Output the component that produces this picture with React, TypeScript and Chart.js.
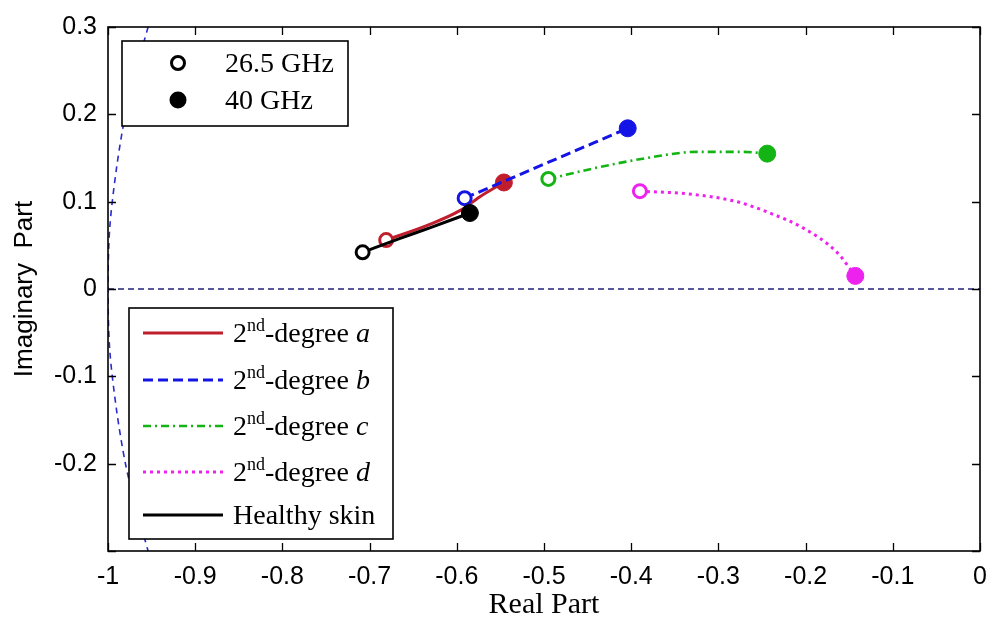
import React, { useEffect, useRef } from "react";
import { Chart, registerables } from "chart.js";

Chart.register(...registerables);

// ---- data ----
const healthyX = [-0.708, -0.665, -0.631, -0.585];
const healthyY = [0.042, 0.058, 0.07, 0.087];

const degAX = [-0.681, -0.631, -0.596, -0.573, -0.546];
const degAY = [0.056, 0.074, 0.09, 0.106, 0.122];

const degBX = [-0.591, -0.404];
const degBY = [0.104, 0.184];

const degCX = [-0.495, -0.439, -0.382, -0.325, -0.272, -0.244];
const degCY = [0.126, 0.139, 0.15, 0.157, 0.157, 0.155];

const degDX = [-0.39, -0.336, -0.279, -0.241, -0.203, -0.164, -0.143];
const degDY = [0.112, 0.109, 0.1, 0.087, 0.07, 0.042, 0.015];

// |Γ| = 1 boundary (visible part near Re = -1)
const circleX = [-0.954, -0.968, -0.98, -0.99, -0.998, -1.0, -0.998, -0.99, -0.98, -0.968, -0.954];
const circleY = [0.3, 0.25, 0.2, 0.14, 0.07, 0, -0.07, -0.14, -0.2, -0.25, -0.3];

const zeroX = [-1, 0];
const zeroY = [0, 0];

const xTicks = [-1, -0.9, -0.8, -0.7, -0.6, -0.5, -0.4, -0.3, -0.2, -0.1, 0];
const yTicks = [-0.3, -0.2, -0.1, 0, 0.1, 0.2, 0.3];

const freqLabels = ["26.5 GHz", "40 GHz"];
const seriesLetters = ["a", "b", "c", "d"];
const healthyLabel = "Healthy skin";

const zip = (xs: number[], ys: number[]) => xs.map((x, i) => ({ x, y: ys[i] }));

const COL_RED = "#c01e2c";
const COL_BLUE = "#1414e6";
const COL_GREEN = "#14b414";
const COL_MAG = "#ee22ee";
const COL_BLK = "#000000";

function endpointSet(label: string, xs: number[], ys: number[], color: string, dash: number[], width: number, order: number) {
  const n = xs.length;
  return {
    label,
    data: zip(xs, ys),
    borderColor: color,
    borderWidth: width,
    borderDash: dash,
    cubicInterpolationMode: "monotone",
    fill: false,
    order,
    pointRadius: (ctx: any) => (ctx.dataIndex === 0 ? 6.5 : ctx.dataIndex === n - 1 ? 8.5 : 0),
    pointBorderWidth: (ctx: any) => (ctx.dataIndex === 0 ? 3 : 1),
    pointBackgroundColor: (ctx: any) => (ctx.dataIndex === 0 ? "#ffffff" : color),
    pointBorderColor: color,
    pointHoverRadius: 0,
  };
}

const framePlugin = {
  id: "frameAndLegends",
  afterDraw(chart: any) {
    const { ctx, chartArea } = chart;
    const { left, right, top, bottom } = chartArea;
    const xs = chart.scales.x;
    const ys = chart.scales.y;
    ctx.save();
    // frame
    ctx.strokeStyle = "#000";
    ctx.lineWidth = 1.6;
    ctx.setLineDash([]);
    ctx.strokeRect(left, top, right - left, bottom - top);
    // inward ticks
    ctx.lineWidth = 1.3;
    const tl = 8;
    xTicks.forEach((v) => {
      const px = Math.round(xs.getPixelForValue(v)) + 0.5;
      ctx.beginPath();
      ctx.moveTo(px, bottom);
      ctx.lineTo(px, bottom - tl);
      ctx.moveTo(px, top);
      ctx.lineTo(px, top + tl);
      ctx.stroke();
    });
    yTicks.forEach((v) => {
      const py = Math.round(ys.getPixelForValue(v)) + 0.5;
      ctx.beginPath();
      ctx.moveTo(left, py);
      ctx.lineTo(left + tl, py);
      ctx.moveTo(right, py);
      ctx.lineTo(right - tl, py);
      ctx.stroke();
    });

    // legend 1 (frequency markers)
    ctx.fillStyle = "#fff";
    ctx.fillRect(122, 41, 226, 85);
    ctx.lineWidth = 1.6;
    ctx.strokeStyle = "#000";
    ctx.strokeRect(122, 41, 226, 85);
    ctx.beginPath();
    ctx.arc(178, 63, 6.5, 0, Math.PI * 2);
    ctx.fillStyle = "#fff";
    ctx.fill();
    ctx.lineWidth = 3;
    ctx.stroke();
    ctx.beginPath();
    ctx.arc(178, 100, 8.5, 0, Math.PI * 2);
    ctx.fillStyle = "#000";
    ctx.fill();
    ctx.font = '28px "Liberation Serif", "DejaVu Serif", serif';
    ctx.textBaseline = "middle";
    ctx.textAlign = "left";
    ctx.fillText(freqLabels[0], 225, 65);
    ctx.fillText(freqLabels[1], 225, 102);

    // legend 2 (series)
    ctx.fillStyle = "#fff";
    ctx.fillRect(129, 308, 264, 231);
    ctx.lineWidth = 1.6;
    ctx.strokeStyle = "#000";
    ctx.strokeRect(129, 308, 264, 231);
    const rows = [
      { color: COL_RED, dash: [] as number[], w: 3, letter: seriesLetters[0], y: 333 },
      { color: COL_BLUE, dash: [10, 5], w: 3, letter: seriesLetters[1], y: 380 },
      { color: COL_GREEN, dash: [8, 4, 2, 4], w: 2.6, letter: seriesLetters[2], y: 426 },
      { color: COL_MAG, dash: [3, 4], w: 3, letter: seriesLetters[3], y: 472 },
      { color: COL_BLK, dash: [] as number[], w: 3, letter: null as string | null, y: 515 },
    ];
    rows.forEach((r) => {
      ctx.save();
      ctx.strokeStyle = r.color;
      ctx.lineWidth = r.w;
      ctx.setLineDash(r.dash);
      ctx.beginPath();
      ctx.moveTo(143, r.y);
      ctx.lineTo(223, r.y);
      ctx.stroke();
      ctx.restore();
      ctx.fillStyle = "#000";
      ctx.textBaseline = "alphabetic";
      const base = r.y + 9;
      if (r.letter === null) {
        ctx.font = '28px "Liberation Serif", "DejaVu Serif", serif';
        ctx.fillText(healthyLabel, 233, base);
      } else {
        let x = 233;
        ctx.font = '28px "Liberation Serif", "DejaVu Serif", serif';
        ctx.fillText("2", x, base);
        x += ctx.measureText("2").width;
        ctx.font = '18px "Liberation Serif", "DejaVu Serif", serif';
        ctx.fillText("nd", x, base - 11);
        x += ctx.measureText("nd").width;
        ctx.font = '28px "Liberation Serif", "DejaVu Serif", serif';
        ctx.fillText("-degree ", x, base);
        x += ctx.measureText("-degree ").width;
        ctx.font = 'italic 28px "Liberation Serif", "DejaVu Serif", serif';
        ctx.fillText(r.letter, x, base);
      }
    });
    ctx.restore();
  },
};

export default function App() {
  const ref = useRef<HTMLCanvasElement | null>(null);
  useEffect(() => {
    if (!ref.current) return;
    const chart = new Chart(ref.current, {
      type: "line",
      data: {
        datasets: [
          endpointSet("Healthy skin", healthyX, healthyY, COL_BLK, [], 3, 1) as any,
          endpointSet("2nd-degree b", degBX, degBY, COL_BLUE, [10, 5], 3, 2) as any,
          endpointSet("2nd-degree a", degAX, degAY, COL_RED, [], 3, 3) as any,
          endpointSet("2nd-degree c", degCX, degCY, COL_GREEN, [8, 4, 2, 4], 2.6, 4) as any,
          endpointSet("2nd-degree d", degDX, degDY, COL_MAG, [3, 4], 3, 5) as any,
          {
            label: "unit circle",
            data: zip(circleX, circleY),
            borderColor: "#2a2ad0",
            borderWidth: 1.6,
            borderDash: [6, 5],
            tension: 0.3,
            pointRadius: 0,
            order: 10,
          } as any,
          {
            label: "zero",
            data: zip(zeroX, zeroY),
            borderColor: "#22227a",
            borderWidth: 1.5,
            borderDash: [6, 4],
            pointRadius: 0,
            order: 11,
          } as any,
        ],
      },
      options: {
        animation: false,
        responsive: false,
        events: [],
        parsing: false as any,
        layout: { padding: { top: 27, right: 13, left: 0, bottom: 0 } },
        plugins: { legend: { display: false }, tooltip: { enabled: false } },
        scales: {
          x: {
            type: "linear",
            min: -1,
            max: 0,
            grid: { display: false, drawTicks: false },
            border: { display: false },
            afterBuildTicks: (s: any) => {
              s.ticks = xTicks.map((v) => ({ value: v }));
            },
            afterFit: (s: any) => {
              s.height = 76;
              s.paddingLeft = 0;
              s.paddingRight = 0;
            },
            ticks: {
              padding: 11,
              color: "#000",
              maxRotation: 0,
              autoSkip: false,
              font: { family: '"Liberation Sans", Arial, sans-serif', size: 25 },
              callback: (v: any) => {
                const n = Number(Number(v).toFixed(1));
                return n === 0 ? "0" : String(n);
              },
            },
            title: {
              display: true,
              text: "Real Part",
              color: "#000",
              font: { family: '"Liberation Serif", "DejaVu Serif", serif', size: 30 },
              padding: { top: 0, bottom: 4 },
            },
          },
          y: {
            type: "linear",
            min: -0.3,
            max: 0.3,
            grid: { display: false, drawTicks: false },
            border: { display: false },
            afterBuildTicks: (s: any) => {
              s.ticks = yTicks.map((v) => ({ value: v }));
            },
            afterFit: (s: any) => {
              s.width = 108;
              s.paddingTop = 0;
              s.paddingBottom = 0;
            },
            ticks: {
              padding: 11,
              color: "#000",
              autoSkip: false,
              font: { family: '"Liberation Sans", Arial, sans-serif', size: 25 },
              callback: (v: any) => {
                const n = Number(Number(v).toFixed(1));
                if (n === -0.3) return "";
                return n === 0 ? "0" : String(n);
              },
            },
            title: {
              display: true,
              text: "Imaginary  Part",
              color: "#000",
              font: { family: '"Liberation Sans", Arial, sans-serif', size: 26 },
              padding: { top: 9, bottom: 0 },
            },
          },
        },
      },
      plugins: [framePlugin],
    });
    return () => chart.destroy();
  }, []);
  return (
    <div style={{ position: "fixed", left: 0, top: 0, width: 993, height: 627, background: "#fff" }}>
      <canvas ref={ref} width={993} height={627} style={{ display: "block" }} />
    </div>
  );
}
